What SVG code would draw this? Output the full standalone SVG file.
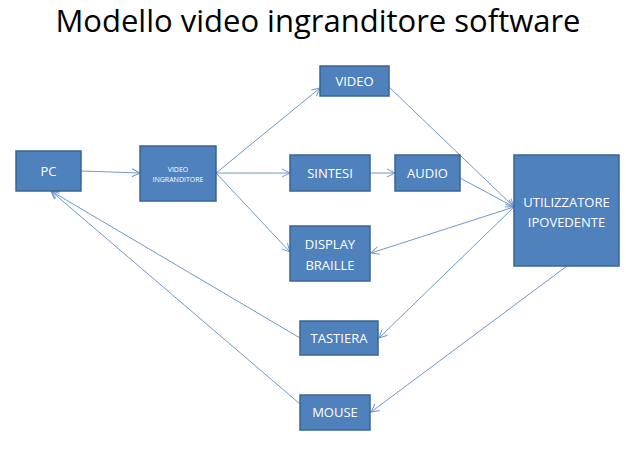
<svg xmlns="http://www.w3.org/2000/svg" width="626" height="454" viewBox="0 0 626 454">
<defs><marker id="a" markerWidth="10" markerHeight="10" refX="9" refY="5" orient="auto" markerUnits="userSpaceOnUse"><path d="M1,1 L9,5 L1,9" fill="none" stroke="#6f97cc" stroke-width="1"/></marker></defs>
<style>rect{fill:#4f81bd;stroke:#3a6494;stroke-width:1.5}text{font-family:"Open Sans","Liberation Sans",sans-serif;fill:#fff;font-size:13px;text-anchor:middle}.c line{stroke:#6f97cc;stroke-width:1;marker-end:url(#a)}</style>
<rect width="626" height="454" style="fill:#fff;stroke:none"/>
<text x="318" y="32" style="fill:#000;font-size:31px">Modello video ingranditore software</text>
<g class="c">
<line x1="81" y1="171" x2="140" y2="173"/>
<line x1="216" y1="173" x2="320" y2="88"/>
<line x1="216" y1="173" x2="290" y2="173"/>
<line x1="216" y1="173" x2="290" y2="252"/>
<line x1="370" y1="173" x2="395" y2="173"/>
<line x1="389" y1="87" x2="514" y2="207"/>
<line x1="460" y1="178" x2="514" y2="207"/>
<line x1="514" y1="207" x2="371" y2="253"/>
<line x1="514" y1="207" x2="379" y2="338"/>
<line x1="567" y1="266" x2="371" y2="412"/>
<line x1="300" y1="338" x2="51" y2="191"/>
<line x1="300" y1="404" x2="51" y2="191"/>
</g>
<g id="pc"><rect x="16" y="151" width="65" height="40"/><text x="48.5" y="176">PC</text></g>
<g id="vi"><rect x="140" y="146" width="76" height="55"/><text x="178" y="172" style="font-size:7px">VIDEO</text><text x="178" y="182" style="font-size:7px">INGRANDITORE</text></g>
<g id="video"><rect x="320" y="66" width="69" height="30"/><text x="354.5" y="86">VIDEO</text></g>
<g id="sintesi"><rect x="290" y="155" width="80" height="36"/><text x="330" y="178">SINTESI</text></g>
<g id="audio"><rect x="395" y="155" width="65" height="36"/><text x="427.5" y="178">AUDIO</text></g>
<g id="display"><rect x="290" y="226" width="80" height="55"/><text x="330" y="249">DISPLAY</text><text x="330" y="270">BRAILLE</text></g>
<g id="ut"><rect x="514" y="155" width="105" height="111"/><text x="566.5" y="207">UTILIZZATORE</text><text x="566.5" y="227">IPOVEDENTE</text></g>
<g id="tastiera"><rect x="300" y="321" width="78" height="34"/><text x="339" y="343">TASTIERA</text></g>
<g id="mouse"><rect x="300" y="395" width="70" height="35"/><text x="335" y="417">MOUSE</text></g>
</svg>
